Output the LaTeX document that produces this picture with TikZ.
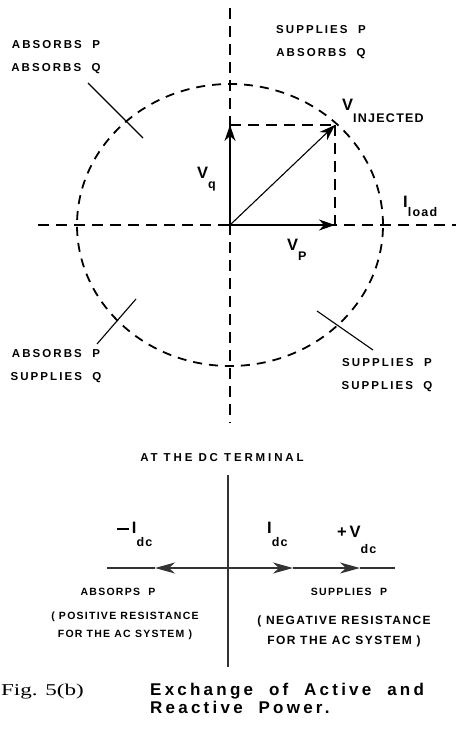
\documentclass[tikz,border=0pt]{standalone}
\usepackage{fontspec}
\setmainfont{Liberation Serif}
\newfontfamily\regfont{Liberation Sans}[LetterSpace=18]
\newfontfamily\dcfont{Liberation Sans}[LetterSpace=12]
\newfontfamily\titfont{Liberation Sans}[LetterSpace=19]
\newfontfamily\symfont{Liberation Sans}[LetterSpace=10]
\usepackage{tikz}
\usetikzlibrary{arrows.meta, positioning}

% big letter with a dropped subscript
\newcommand{\vlab}[3]{{\fontsize{16.5}{18}\selectfont #1}\raisebox{-#3}{\fontsize{12.5}{14}\selectfont #2}}

\begin{document}
\begin{tikzpicture}[
        x=1pt, y=-1pt,
        axis/.style={line width=1.8pt, dash pattern=on 11pt off 7pt},
        ring/.style={line width=1.8pt, dash pattern=on 9pt off 7pt},
        vec/.style={line width=1.1pt, -{Stealth[length=16pt, width=11pt, inset=5pt]}},
        tick/.style={line width=1.1pt},
        region/.style={font=\regfont\bfseries\fontsize{11.5}{13}\selectfont, align=center, inner sep=0pt},
        sym/.style={font=\symfont\bfseries, anchor=base west, inner sep=0pt},
        dcline/.style={line width=1.2pt, draw=black!80},
        dcvec/.style={dcline, -{Stealth[length=20pt, width=11pt, inset=6pt]}},
        dctext/.style={font=\dcfont\bfseries\fontsize{10.5}{18}\selectfont, align=center, inner sep=0pt}
    ]
        \useasboundingbox (0,0) rectangle (456,729);

        % Ejes y circulo
        \coordinate (O) at (230,225);
        \coordinate (axT) at (230,8);
        \coordinate (axB) at (230,423);
        \coordinate (axL) at (38,225);
        \coordinate (axR) at (456,225);
        \draw[axis] (axT) -- (axB);
        \draw[axis] (axL) -- (axR);
        \draw[ring] (O) ellipse [x radius=153pt, y radius=141pt];

        % Vectores
        \coordinate (Vi) at (335,125);
        \coordinate (Vq) at (230,125);
        \coordinate (Vp) at (335,225);
        \draw[axis] (Vq) -- (Vi);
        \draw[axis] (Vi) -- (Vp);
        \draw[vec] (O) -- (Vq);
        \draw[vec] (O) -- (Vp);
        \draw[vec] (O) -- (Vi);

        % Marcas de los cuadrantes
        \coordinate (ulA) at (88,83);   \coordinate (ulB) at (143,138);
        \coordinate (llA) at (97,344);  \coordinate (llB) at (136,299);
        \coordinate (lrA) at (317,311); \coordinate (lrB) at (373,350);
        \draw[tick] (ulA) -- (ulB);
        \draw[tick] (llA) -- (llB);
        \draw[tick] (lrA) -- (lrB);

        % Etiquetas de los cuadrantes
        \node[region] (ul) at (56,57) {ABSORBS~~P\\[10pt]ABSORBS~~Q};
        \node[region] (ur) at (321,42) {SUPPLIES~~P\\[10pt]ABSORBS~~Q};
        \node[region] (ll) at (56,366) {ABSORBS~~P\\[10pt]SUPPLIES~~Q};
        \node[region] (lr) at (387,375) {SUPPLIES~~P\\[10pt]SUPPLIES~~Q};

        % Etiquetas de los vectores
        \node[sym] (vinj) at (342,110) {\vlab{V}{INJECTED}{12pt}};
        \node[sym] (vq) at (197,178) {\vlab{V}{q}{10pt}};
        \node[sym] (vp) at (287,250) {\vlab{V}{P}{10pt}};
        \node[sym] (iload) at (403,207) {\vlab{I}{load}{9pt}};

        % Terminal de continua
        \node[dctext, font=\regfont\bfseries\fontsize{11.5}{13}\selectfont\addfontfeature{LetterSpace=25}] (term) at (222,458) {AT THE DC TERMINAL};
        \coordinate (dcT) at (228,475);
        \coordinate (dcB) at (228,667);
        \coordinate (dcC) at (228,568);
        \coordinate (dcL) at (107,568);
        \coordinate (dcR) at (395,568);
        \coordinate (tipL) at (155,568);
        \coordinate (tipA) at (293,568);
        \coordinate (tipB) at (360,568);
        \draw[dcline] (dcT) -- (dcB);
        \draw[dcline] (tipL) -- (dcL);
        \draw[dcvec] (dcC) -- (tipL);
        \draw[dcvec] (dcC) -- (tipA);
        \draw[dcvec] (tipA) -- (tipB);
        \draw[dcline] (tipB) -- (dcR);

        \node[sym] (midc) at (117,533) {\vlab{\raisebox{3pt}{\rule{12pt}{1.6pt}}\,I}{dc}{13pt}};
        \node[sym] (idc) at (267,533) {\vlab{I}{dc}{13pt}};
        \node[sym] (vdc) at (337,537) {\vlab{+\,V}{dc}{16pt}};

        \node[dctext] (abs) at (118,592) {ABSORPS~~P};
        \node[dctext] (pos) at (125,626) {( POSITIVE RESISTANCE\\FOR THE AC SYSTEM )};
        \node[dctext] (sup) at (349,592) {SUPPLIES~~P};
        \node[dctext, font=\dcfont\bfseries\fontsize{12}{20}\selectfont] (neg) at (344,631) {( NEGATIVE RESISTANCE\\FOR THE AC SYSTEM )};

        % Pie de figura
        \node[anchor=base east, inner sep=0pt, font=\fontsize{16.5}{18}\selectfont] (fig) at (84,695) {\scalebox{1.4}[1]{Fig. 5(b)}};
        \node[anchor=base west, align=left, inner sep=0pt, font=\titfont\bfseries\fontsize{17}{18}\selectfont] (title) at (150,713) {Exchange~ of~ Active~ and\\Reactive~ Power.};
    \end{tikzpicture}
\end{document}
